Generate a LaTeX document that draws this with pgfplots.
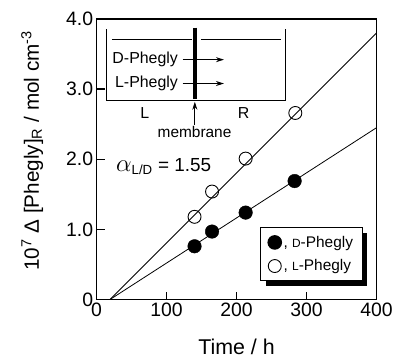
\documentclass[border=0pt]{standalone}
\usepackage{pgfplots}
\pgfplotsset{compat=1.18}
\usepackage{fontspec}
\setmainfont{Liberation Sans}
\usetikzlibrary{shadows,arrows.meta}
\newcommand{\fsc}[1]{{\fontsize{12}{12}\selectfont #1}}
\begin{document}
\begin{tikzpicture}
\begin{axis}[
  scale only axis, width=280.3bp, height=281bp,
  xmin=0, xmax=400, ymin=0, ymax=4,
  xtick={0,100,200,300,400},
  ytick={0,1,2,3,4},
  yticklabels={0,1.0,2.0,3.0,4.0},
  /pgf/number format/assume math mode=true,
  tick pos=left, tick align=inside, major tick length=8bp,
  axis line style={line width=1.3bp},
  every tick/.style={line width=1.3bp, black},
  ticklabel style={font=\fontsize{19.5}{22}\selectfont},
  label style={font=\fontsize{20.8}{24}\selectfont},
  xlabel={Time / h},
  xlabel style={at={(axis description cs:0.5,-0.195)}, anchor=base, font=\fontsize{21.5}{24}\selectfont},
  ylabel={10\textsuperscript{7} Δ [Phegly]\textsubscript{R} / mol cm\textsuperscript{-3}},
  ylabel style={at={(axis description cs:-0.23,0.53)}, anchor=center},
  legend cell align=left,
  legend image code/.code={\draw[mark repeat=2,mark phase=2,#1] plot coordinates {(0cm,0cm)(0.22cm,0cm)(0.44cm,0cm)};},
  legend style={at={(0.95,0.065)}, anchor=south east,
    font=\fontsize{15.5}{18}\selectfont, draw=black, line width=1bp,
    fill=white, row sep=7bp, inner xsep=7bp, inner ysep=6.5bp,
    drop shadow={shadow xshift=5bp, shadow yshift=-5bp, opacity=1, fill=black}},
]
\addplot[black, line width=0.8bp, forget plot] coordinates {(19,0) (400,3.80)};
\addplot[black, line width=0.8bp, forget plot] coordinates {(19,0) (400,2.45)};
\addplot[only marks, mark=*, mark size=6.8bp, mark options={fill=black, draw=black}]
  coordinates {(140,0.76) (165,0.97) (213,1.24) (283,1.69)};
\addlegendentry{, \fsc{D}-Phegly}
\addplot[only marks, mark=o, mark size=6.5bp, mark options={fill=white, draw=black, line width=0.9bp}]
  coordinates {(140,1.18) (165,1.54) (213,2.01) (284,2.66)};
\addlegendentry{, \fsc{L}-Phegly}
% inset schematic
\draw[line width=1.1bp] (axis cs:14.3,3.856) -- (axis cs:14.3,2.84) -- (axis cs:270.4,2.84) -- (axis cs:270.4,3.856);
\draw[line width=0.9bp] (axis cs:22,3.71) -- (axis cs:137,3.71);
\draw[line width=0.9bp] (axis cs:149,3.71) -- (axis cs:263,3.71);
\node[anchor=east, font=\fontsize{16}{18}\selectfont, inner sep=1bp] at (axis cs:118,3.42) {D-Phegly};
\node[anchor=east, font=\fontsize{16}{18}\selectfont, inner sep=1bp] at (axis cs:118,3.08) {L-Phegly};
\draw[line width=0.9bp, -{Stealth[length=8bp,width=5bp]}] (axis cs:123,3.42) -- (axis cs:182,3.42);
\draw[line width=0.9bp, -{Stealth[length=8bp,width=5bp]}] (axis cs:123,3.08) -- (axis cs:182,3.08);
\draw[line width=4bp] (axis cs:140.4,3.875) -- (axis cs:140.4,2.86);
\node[font=\fontsize{16}{18}\selectfont] at (axis cs:69,2.66) {L};
\node[font=\fontsize{16}{18}\selectfont] at (axis cs:210,2.66) {R};
\draw[line width=0.9bp, -{Stealth[length=8bp,width=5bp]}] (axis cs:140.4,2.49) -- (axis cs:140.4,2.82);
\node[font=\fontsize{15.5}{18}\selectfont] at (axis cs:140,2.39) {membrane};
\node[anchor=base west, font=\fontsize{19}{22}\selectfont, inner sep=0pt] at (axis cs:27.6,1.83) {{\fontsize{25}{26}\selectfont$\alpha$}\textsubscript{L/D} = 1.55};
\end{axis}
\path ([xshift=-96.7bp,yshift=-57bp]current axis.south west) rectangle ([xshift=19bp,yshift=19bp]current axis.north east);
\end{tikzpicture}
\end{document}
